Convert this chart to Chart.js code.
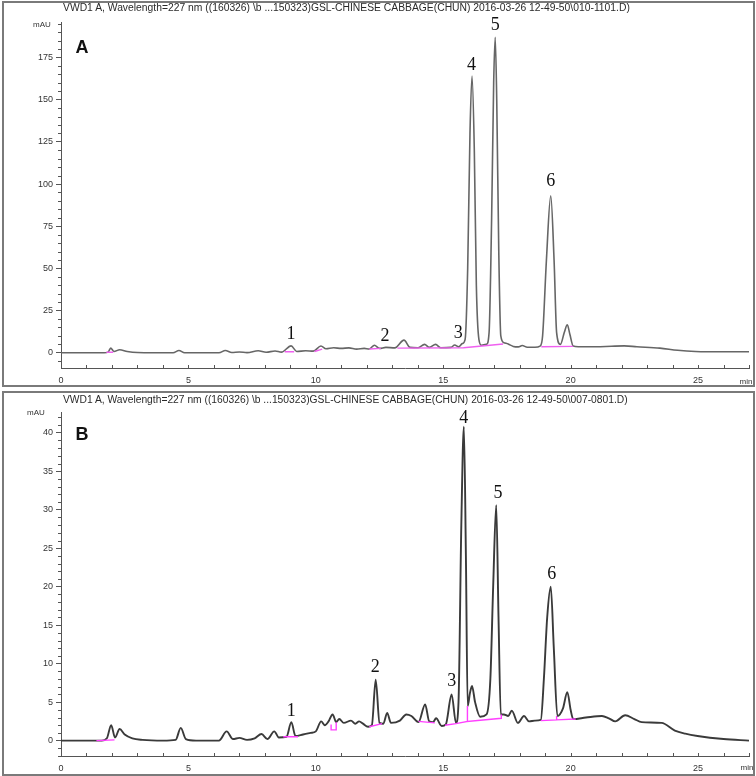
<!DOCTYPE html>
<html>
<head>
<meta charset="utf-8">
<script src="https://cdn.jsdelivr.net/npm/chart.js@4.4.1/dist/chart.umd.min.js"></script>
<style>
  html, body { margin: 0; padding: 0; background: #fff; }
  body { width: 756px; height: 776px; position: relative; overflow: hidden;
         font-family: Arial, "Liberation Sans", sans-serif; }
  canvas { position: absolute; left: 0; }
  .frame { position: absolute; border: 2px solid #7a7a7a; box-sizing: border-box; }
  .title { position: absolute; left: 63px; font-size: 10px; line-height: 12px; color: #2a2a2a;
           white-space: nowrap; transform-origin: 0 50%; }
  .unit  { position: absolute; font-size: 8px; line-height: 10px; color: #333;
           transform: translate(-50%, -50%); }
  .panel { position: absolute; font: bold 18px Arial, "Liberation Sans", sans-serif; color: #111;
           transform: translate(-50%, -50%); }
</style>
</head>
<body>
<div class="frame" style="left:2px;top:1px;width:753px;height:386px"></div>
<div class="frame" style="left:2px;top:391px;width:753px;height:385px"></div>
<canvas id="chartA" width="756" height="388" style="top:0"></canvas>
<canvas id="chartB" width="756" height="386" style="top:390px"></canvas>

<div class="title" id="titleA" style="top:2px">VWD1 A, Wavelength=227 nm ((160326) \b ...150323)GSL-CHINESE CABBAGE(CHUN) 2016-03-26 12-49-50\010-1101.D)</div>
<div class="title" id="titleB" style="top:394px">VWD1 A, Wavelength=227 nm ((160326) \b ...150323)GSL-CHINESE CABBAGE(CHUN) 2016-03-26 12-49-50\007-0801.D)</div>
<div class="unit" style="left:42px;top:25px">mAU</div>
<div class="unit" style="left:36px;top:413px">mAU</div>
<div class="unit" style="left:746px;top:382px">min</div>
<div class="unit" style="left:747px;top:768px">min</div>
<div class="panel" style="left:82px;top:47px">A</div>
<div class="panel" style="left:82px;top:434px">B</div>

<script>
'use strict';

// ── Data (retention time in min, absorbance in mAU) ─────────────

const traceA = [
  [0,0],[1.7,0],[1.85,0.4],[1.95,2.8],[2.08,0.8],[2.3,1.8],[2.6,0.8],[3.0,0.2],[4.4,0],
  [4.63,1.4],[4.85,0],[6.2,0],[6.45,1.4],[6.7,0.2],[7.0,0.5],[7.3,0.1],[7.74,1.2],[8.05,0.3],
  [8.4,1.1],[8.65,0.4],[9.03,4.1],[9.25,0.8],[9.6,1.2],[9.9,1.0],[10.2,4.0],[10.4,2.4],
  [10.7,3.0],[11.0,2.6],[11.3,2.9],[11.6,2.2],[11.9,2.6],[12.1,2.3],[12.3,4.5],[12.5,2.6],
  [12.75,3.2],[13.1,2.9],[13.46,7.5],[13.7,3.2],[14.0,3.0],[14.27,5.0],[14.45,3.2],[14.7,5.0],
  [14.9,3.0],[15.3,3.2],[15.45,4.6],[15.6,3.5],[15.75,5.5],[15.86,8],[15.96,50],[16.05,130],
  [16.13,164],[16.22,120],[16.3,40],[16.4,8],[16.5,4.5],[16.7,5],[16.8,12],[16.9,80],
  [16.98,160],[17.04,187],[17.1,150],[17.18,60],[17.26,10],[17.38,6],[17.55,5.2],[17.75,3.8],
  [17.95,3.5],[18.1,4.3],[18.3,3.3],[18.6,3.3],[18.8,4],[18.9,10],[19.05,55],[19.22,93],
  [19.35,55],[19.45,12],[19.6,5],[19.75,12],[19.87,16.6],[19.97,11],[20.1,4],[20.3,3.6],
  [21.0,3.6],[21.6,3.9],[22.1,4.1],[22.6,3.6],[23.5,2.8],[24.2,1.5],[24.9,0.8],[26,0.6],[27,0.6]
];

const baselinesA = [
  [[1.78,0.3],[2.05,0.3]],
  [[8.78,0.6],[9.15,0.6]],
  [[9.95,0.8],[10.25,2.2]],
  [[12.1,2.3],[12.55,2.6]],
  [[13.2,2.8],[15.8,3.0],[17.35,5.2]],
  [[18.85,3.6],[20.1,3.8]]
];

const traceB = [
  [0,0],[1.6,0],[1.8,0.3],[1.97,2.0],[2.12,0.4],[2.3,1.5],[2.5,0.8],[2.8,0.3],[3.2,0.1],
  [4.0,0],[4.5,0.1],[4.7,1.65],[4.9,0.2],[5.3,0],[6.2,0],[6.5,1.2],[6.75,0.2],[7.0,0.35],
  [7.3,0.1],[7.6,0.3],[7.87,0.85],[8.1,0.2],[8.37,1.2],[8.55,0.4],[8.85,0.5],[9.04,2.4],
  [9.2,0.6],[9.5,0.8],[9.8,1.0],[10.0,1.2],[10.21,2.5],[10.35,2.0],[10.5,2.5],[10.66,3.4],
  [10.8,2.4],[10.92,2.8],[11.1,2.3],[11.38,2.6],[11.55,2.2],[11.7,2.5],[11.85,2.2],[12.05,1.8],
  [12.2,2.0],[12.35,7.9],[12.5,2.3],[12.65,2.2],[12.8,3.6],[12.95,2.3],[13.3,2.6],[13.55,3.4],
  [13.75,3.2],[14.03,2.4],[14.29,4.7],[14.45,2.5],[14.6,2.4],[14.72,2.9],[14.94,1.9],[15.1,2.1],
  [15.33,6.0],[15.5,2.3],[15.6,5],[15.71,28],[15.81,40.8],[15.89,24],[15.96,4.5],[16.05,6.2],
  [16.13,7.1],[16.25,5],[16.45,3.1],[16.7,3.4],[16.85,8],[16.96,20],[17.08,30.6],[17.17,16],
  [17.26,3.4],[17.38,3.4],[17.55,3.2],[17.69,3.9],[17.93,2.3],[18.17,3.2],[18.37,2.5],[18.6,2.6],
  [18.83,2.7],[18.95,8],[19.08,16],[19.22,20],[19.34,12],[19.48,3.2],[19.7,4.2],[19.87,6.3],
  [20.0,4],[20.1,2.8],[20.6,3.0],[21.23,3.2],[21.5,2.9],[21.75,2.5],[22.14,3.3],[22.5,2.8],
  [22.79,2.4],[23.57,2.3],[24.09,1.3],[24.5,0.9],[24.98,0.6],[26,0.2],[27,0.0]
];

const baselinesB = [
  [[1.39,0],[2.1,0.1]],
  [[8.72,0.5],[9.3,0.5]],
  [[10.6,2.1],[10.6,1.4],[10.8,1.4],[10.8,2.4]],
  [[12.1,1.8],[12.6,2.2]],
  [[14.03,2.5],[14.67,2.3]],
  [[15.07,2.0],[15.5,2.2],[15.95,2.5],[15.95,4.5],[15.95,2.5],[17.28,2.9],[17.28,3.4]],
  [[18.83,2.6],[19.45,2.7],[19.45,3.2],[19.45,2.7],[20.2,2.8]]
];

// peak numbers: [time, mAU, text]
const peakLabelsA = [[9.03,10.7,'1'],[12.72,9.6,'2'],[15.59,11.7,'3'],[16.11,170.4,'4'],[17.04,194,'5'],[19.22,101.4,'6']];
const peakLabelsB = [[9.04,3.8,'1'],[12.33,9.5,'2'],[15.33,7.7,'3'],[15.81,41.9,'4'],[17.15,32.2,'5'],[19.26,21.6,'6']];

const xLabels  = [0, 5, 10, 15, 20, 25];
const yLabelsA = [0, 25, 50, 75, 100, 125, 150, 175];
const yLabelsB = [0, 5, 10, 15, 20, 25, 30, 35, 40];

// ── Helpers ──────────────────────────────────────────

const toXY = pairs => pairs.map(([x, y]) => ({ x, y }));

function segmentsToXY(segs) {
  const out = [];
  segs.forEach((seg, i) => {
    if (i > 0) out.push({ x: seg[0][0], y: null });   // break between segments
    seg.forEach(([x, y]) => out.push({ x, y }));
  });
  return out;
}

// evenly spaced tick values inside [min, max]
function stepTicks(min, max, step) {
  const out = [];
  for (let i = Math.ceil(min / step); i * step <= max + 1e-9; i++) out.push({ value: i * step });
  return out;
}

const marks = {
  id: 'marks',
  afterDraw(chart, args, o) {
    const { ctx, chartArea: a, scales: { x, y } } = chart;
    ctx.save();
    ctx.strokeStyle = '#555';
    ctx.lineWidth = 1;
    // minor y ticks
    y.ticks.forEach(t => {
      if (o.yMajor.includes(t.value)) return;
      const py = Math.round(y.getPixelForValue(t.value)) + 0.5;
      ctx.beginPath(); ctx.moveTo(a.left - 3, py); ctx.lineTo(a.left, py); ctx.stroke();
    });
    // x ticks, every minute, pointing up
    x.ticks.forEach(t => {
      const px = Math.round(x.getPixelForValue(t.value)) + 0.5;
      ctx.beginPath(); ctx.moveTo(px, a.bottom); ctx.lineTo(px, a.bottom - 3); ctx.stroke();
    });
    // peak numbers
    ctx.font = '18px "Liberation Serif", "Times New Roman", serif';
    ctx.fillStyle = '#111';
    ctx.textAlign = 'center';
    ctx.textBaseline = 'middle';
    o.labels.forEach(([t, v, s]) => ctx.fillText(s, x.getPixelForValue(t), y.getPixelForValue(v)));
    ctx.restore();
  }
};

function makeChart(id, trace, baselines, opt) {
  return new Chart(document.getElementById(id), {
    type: 'line',
    data: {
      datasets: [
        {
          data: segmentsToXY(baselines),
          borderColor: opt.pink,
          borderWidth: 1.4,
          pointRadius: 0,
          tension: 0,
          spanGaps: false,
          order: 0,
        },
        {
          data: toXY(trace),
          borderColor: opt.line,
          borderWidth: opt.lineWidth,
          pointRadius: 0,
          cubicInterpolationMode: 'monotone',
          order: 1,
        },
      ],
    },
    options: {
      responsive: false,
      animation: false,
      devicePixelRatio: 1,
      layout: { padding: { left: 0, right: 3, top: 22, bottom: 0 } },
      plugins: {
        legend: { display: false },
        tooltip: { enabled: false },
        marks: { labels: opt.labels, yMajor: opt.yMajor },
      },
      scales: {
        x: {
          type: 'linear',
          min: 0, max: 27,
          afterFit: s => { s.height = opt.xHeight; },
          afterBuildTicks: s => { s.ticks = stepTicks(0, 27, 1); },
          border: { display: true, color: '#555', width: 1 },
          grid: { display: true, drawOnChartArea: false, drawTicks: false },
          ticks: {
            autoSkip: false, maxRotation: 0, padding: 7,
            color: '#333', font: { size: 9, family: 'Arial' },
            callback: v => xLabels.includes(v) ? String(v) : '',
          },
        },
        y: {
          min: opt.yMin, max: opt.yMax,
          afterFit: s => { s.width = 61; },
          afterBuildTicks: s => { s.ticks = stepTicks(opt.yMin, opt.yMax, opt.yStep); },
          border: { display: true, color: '#555', width: 1 },
          grid: {
            display: true, drawOnChartArea: false, drawTicks: true, tickLength: 5,
            tickColor: c => opt.yMajor.includes(c.tick.value) ? '#555' : 'rgba(0,0,0,0)',
          },
          ticks: {
            autoSkip: false, padding: 3,
            color: '#333', font: { size: 9, family: 'Arial' },
            callback: v => opt.yMajor.includes(v) ? String(v) : '',
          },
        },
      },
    },
    plugins: [marks],
  });
}

makeChart('chartA', traceA, baselinesA, {
  yMin: -9, yMax: 196, yStep: 5, yMajor: yLabelsA, xHeight: 20,
  line: '#666', lineWidth: 1.6, pink: '#f060f0', labels: peakLabelsA,
});

makeChart('chartB', traceB, baselinesB, {
  yMin: -2, yMax: 42.7, yStep: 1, yMajor: yLabelsB, xHeight: 20,
  line: '#3a3a3a', lineWidth: 1.9, pink: '#ff40ff', labels: peakLabelsB,
});

// squeeze titles to the reference width
[['titleA', 567], ['titleB', 565]].forEach(([id, w]) => {
  const el = document.getElementById(id);
  el.style.transform = `scaleX(${w / el.offsetWidth})`;
});
</script>
</body>
</html>
